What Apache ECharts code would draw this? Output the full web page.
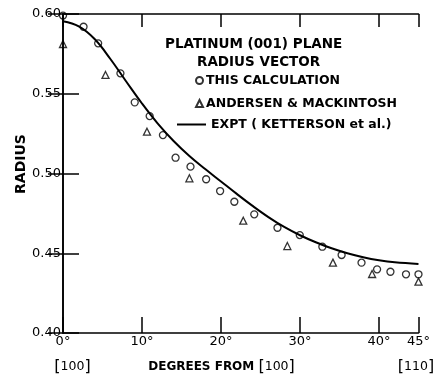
<!DOCTYPE html>
<html>
<head>
<meta charset="utf-8">
<script src="https://cdn.jsdelivr.net/npm/echarts@6/dist/echarts.min.js"></script>
<style>
  html, body { margin: 0; padding: 0; background: #fff; }
  #chart { width: 433px; height: 377px; }
</style>
</head>
<body>
<div id="chart"></div>
<script>
// ---- data ----
var calcDeg    = [0, 2.6, 4.45, 7.27, 9.08, 10.97, 12.65, 14.25, 16.14, 18.12, 19.89, 21.69, 24.21, 27.15, 29.97, 32.83, 35.27, 37.79, 39.76, 41.45, 43.42, 45];
var calcRadius = [0.599, 0.592, 0.5816, 0.5628, 0.5446, 0.536, 0.5241, 0.5099, 0.5043, 0.4964, 0.489, 0.4823, 0.4744, 0.466, 0.4614, 0.4541, 0.4489, 0.4441, 0.4399, 0.4384, 0.4368, 0.4368];

var amDeg    = [0, 5.38, 10.63, 16.0, 22.82, 28.4, 34.17, 39.13, 45];
var amRadius = [0.5812, 0.5618, 0.5262, 0.497, 0.4704, 0.4545, 0.4441, 0.437, 0.4322];

var exptDeg    = [0, 2, 4, 6, 8, 10, 12, 14, 16, 18, 20, 22, 24, 26, 28, 30, 32, 34, 36, 38, 40, 42, 45];
var exptRadius = [0.5954, 0.5922, 0.5843, 0.5718, 0.5577, 0.5439, 0.5313, 0.5204, 0.5110, 0.5028, 0.4950, 0.4872, 0.4797, 0.4727, 0.4665, 0.4613, 0.4569, 0.4531, 0.4500, 0.4475, 0.4456, 0.4443, 0.4433];

var xTickLabels = ['0°', '10°', '20°', '30°', '40°', '45°'];
var xTickValues = [0, 10, 20, 30, 40, 45];
var seriesNames = ['THIS CALCULATION', 'ANDERSEN & MACKINTOSH', 'EXPT ( KETTERSON et al.)'];
var titleLines = ['PLATINUM (001) PLANE', 'RADIUS VECTOR'];

function zip(a, b) { return a.map(function (v, i) { return [v, b[i]]; }); }

var FONT = 'DejaVu Sans';
var chart = echarts.init(document.getElementById('chart'), null, { renderer: 'canvas' });

var axisLineStyle = { color: '#000', width: 1.6 };
var tickStyle = { color: '#000', width: 1.5 };
var legendText = { fontFamily: FONT, fontSize: 12.5, fontWeight: 'bold', color: '#000' };
var titleText = { fontFamily: FONT, fontSize: 13.5, fontWeight: 'bold', color: '#000' };

var option = {
  animation: false,
  backgroundColor: '#fff',
  grid: { left: 63, right: 13, top: 14, bottom: 44, containLabel: false },
  title: [
    { text: titleLines[0], left: 165, top: 37, padding: 0, textStyle: titleText },
    { text: titleLines[1], left: 197, top: 55, padding: 0, textStyle: titleText }
  ],
  legend: [
    { data: [seriesNames[0]], left: 195, top: 74, padding: 0, itemWidth: 7, itemHeight: 7, icon: 'circle',
      selectedMode: false, textStyle: Object.assign({ padding: [0, 0, 0, -2] }, legendText) },
    { data: [seriesNames[1]], left: 195, top: 97, padding: 0, itemWidth: 7, itemHeight: 7, icon: 'triangle',
      selectedMode: false, textStyle: Object.assign({ padding: [0, 0, 0, -2] }, legendText) },
    { data: [seriesNames[2]], left: 177, top: 118, padding: 0, itemWidth: 29, itemHeight: 2, icon: 'rect',
      selectedMode: false, textStyle: legendText }
  ],
  xAxis: [
    { type: 'value', min: 0, max: 45, interval: 10, position: 'bottom',
      axisLine: { show: true, lineStyle: axisLineStyle },
      axisTick: { show: true, inside: true, length: 16, lineStyle: tickStyle },
      axisLabel: { margin: 2, fontFamily: FONT, fontSize: 13, color: '#000',
        formatter: function (v) { var i = xTickValues.indexOf(v); return i >= 0 ? xTickLabels[i] : ''; } },
      splitLine: { show: false } },
    { type: 'value', min: 0, max: 45, interval: 10, position: 'top',
      axisLine: { show: true, lineStyle: axisLineStyle },
      axisTick: { show: true, inside: true, length: 13, lineStyle: tickStyle },
      axisLabel: { show: false }, splitLine: { show: false } }
  ],
  yAxis: [
    { type: 'value', min: 0.40, max: 0.60, interval: 0.05, position: 'left',
      axisLine: { show: true, lineStyle: axisLineStyle },
      axisTick: { show: true, inside: true, length: 16, lineStyle: tickStyle },
      axisLabel: { margin: 2, fontFamily: FONT, fontSize: 13, color: '#000',
        formatter: function (v) { return v.toFixed(2); } },
      splitLine: { show: false } },
    { type: 'value', min: 0.40, max: 0.60, interval: 0.05, position: 'right',
      axisLine: { show: true, lineStyle: axisLineStyle },
      axisTick: { show: true, inside: true, length: 15, lineStyle: tickStyle },
      axisLabel: { show: false }, splitLine: { show: false } }
  ],
  graphic: [
    { type: 'text', x: 21, y: 164, rotation: Math.PI / 2,
      style: { text: 'RADIUS', fontFamily: FONT, fontSize: 14, fontWeight: 'bold', fill: '#000',
        align: 'center', verticalAlign: 'middle' } },
    { type: 'text', x: 72.5, y: 367,
      style: { text: '{b|[}{t|100}{b|]}', align: 'center', verticalAlign: 'middle',
        rich: { b: { fontFamily: FONT, fontSize: 16, fill: '#000' },
                t: { fontFamily: FONT, fontSize: 12.5, fill: '#000' } } } },
    { type: 'text', x: 221.5, y: 367,
      style: { text: '{t|DEGREES FROM }{b|[}{n|100}{b|]}', align: 'center', verticalAlign: 'middle',
        rich: { b: { fontFamily: FONT, fontSize: 16, fill: '#000' },
                n: { fontFamily: FONT, fontSize: 12.5, fill: '#000' },
                t: { fontFamily: FONT, fontSize: 12, fontWeight: 'bold', fill: '#000' } } } },
    { type: 'text', x: 416, y: 367,
      style: { text: '{b|[}{t|110}{b|]}', align: 'center', verticalAlign: 'middle',
        rich: { b: { fontFamily: FONT, fontSize: 16, fill: '#000' },
                t: { fontFamily: FONT, fontSize: 12.5, fill: '#000' } } } }
  ],
  series: [
    { name: seriesNames[0], type: 'scatter', data: zip(calcDeg, calcRadius),
      symbol: 'circle', symbolSize: 7, z: 4,
      itemStyle: { color: 'rgba(255,255,255,0)', borderColor: '#000', borderWidth: 1.3 } },
    { name: seriesNames[1], type: 'scatter', data: zip(amDeg, amRadius),
      symbol: 'triangle', symbolSize: 7, z: 4,
      itemStyle: { color: 'rgba(255,255,255,0)', borderColor: '#000', borderWidth: 1.3 } },
    { name: seriesNames[2], type: 'line', data: zip(exptDeg, exptRadius),
      smooth: 0.4, symbol: 'none', z: 3,
      itemStyle: { color: '#000' },
      lineStyle: { color: '#000', width: 2 } }
  ]
};
chart.setOption(option);
</script>
</body>
</html>
